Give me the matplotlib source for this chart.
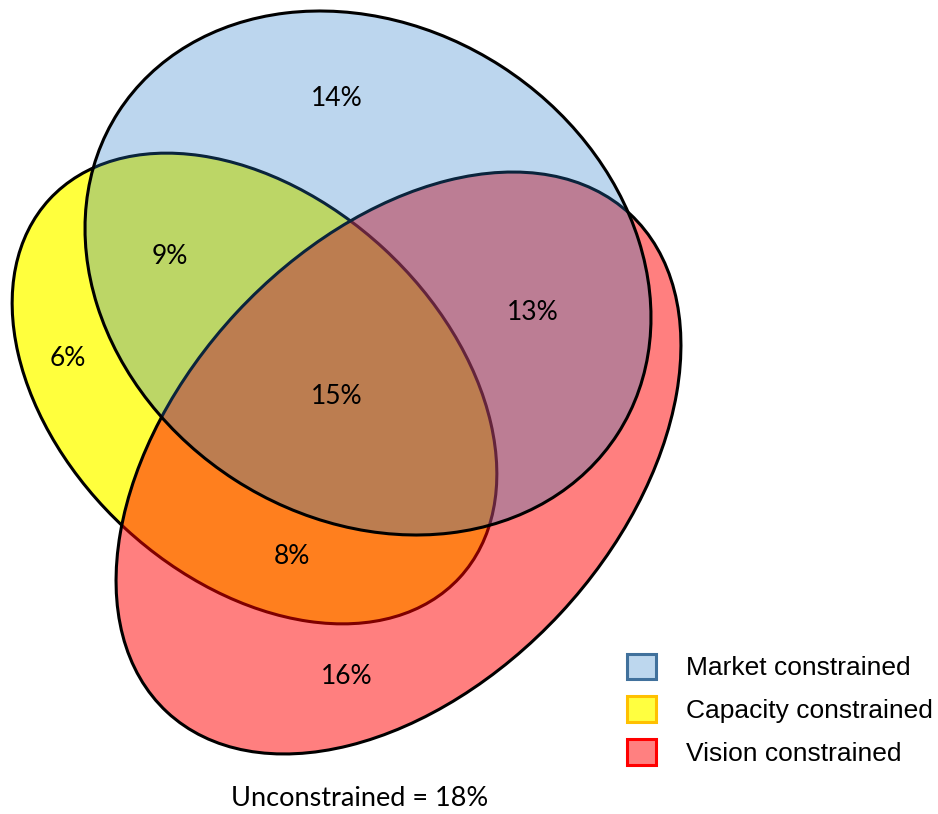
"""Three-way Venn of constraint types, drawn as overlapping tilted ellipses."""
import matplotlib.pyplot as plt
from matplotlib.patches import Ellipse, Patch

# constraint sets, bottom to top in drawing order
SETS = ["Capacity constrained", "Vision constrained", "Market constrained"]
LEGEND_ORDER = ["Market constrained", "Capacity constrained", "Vision constrained"]

# share of respondents in each region (percent)
REGIONS = ["Market only", "Market & Capacity", "Capacity only", "Market & Vision",
           "All three", "Capacity & Vision", "Vision only"]
SHARES = [14, 9, 6, 13, 15, 8, 16]
UNCONSTRAINED = 18

# ellipse geometry in pixel space (y grows downward): centre, width, height, angle
SHAPES = {
    "Capacity constrained": ((254.5, 388.5), 558, 381, 42.7),
    "Vision constrained": ((398.5, 463), 680, 442, -47.1),
    "Market constrained": ((368, 273), 594, 492, 32.8),
}
FILLS = {
    "Capacity constrained": (1.0, 1.0, 0.24, 1.0),
    "Vision constrained": (1.0, 0.0, 0.0, 0.5),
    "Market constrained": (0.14, 0.48, 0.78, 0.30),
}
LEGEND_FACE = {
    "Market constrained": "#bdd7ee",
    "Capacity constrained": "#ffff40",
    "Vision constrained": "#ff8080",
}
LEGEND_EDGE = {
    "Market constrained": "#41719c",
    "Capacity constrained": "#ffc000",
    "Vision constrained": "#ff0000",
}
LABEL_POS = {
    "Market only": (337, 99),
    "Market & Capacity": (170, 257),
    "Capacity only": (68, 358),
    "Market & Vision": (533, 313),
    "All three": (337, 397),
    "Capacity & Vision": (292, 556),
    "Vision only": (347, 677),
}


def main():
    fig = plt.figure(figsize=(9.38, 8.14), dpi=100, facecolor="white")
    ax = fig.add_axes([0, 0, 1, 1])
    ax.set_xlim(0, 938)
    ax.set_ylim(814, 0)
    ax.set_aspect("equal")
    ax.axis("off")

    for i, name in enumerate(SETS):
        centre, w, h, ang = SHAPES[name]
        ax.add_patch(Ellipse(centre, w, h, angle=ang, facecolor=FILLS[name],
                             edgecolor="black", linewidth=2.2, zorder=1 + i))

    for region, share in zip(REGIONS, SHARES):
        x, y = LABEL_POS[region]
        ax.text(x, y, f"{share}%", ha="center", va="center", fontsize=19,
                family="Lato", color="black", zorder=10)

    ax.text(360, 799, f"Unconstrained = {UNCONSTRAINED}%", ha="center", va="center",
            fontsize=19.5, family="Lato", color="black")

    handles = [Patch(facecolor=LEGEND_FACE[n], edgecolor=LEGEND_EDGE[n], linewidth=2.2)
               for n in LEGEND_ORDER]
    ax.legend(handles, LEGEND_ORDER, loc="upper left", bbox_to_anchor=(0.668, 0.197),
              frameon=False, prop={"family": "Liberation Sans", "size": 19},
              handlelength=1.12, handleheight=1.12, handletextpad=1.13,
              labelspacing=0.6, borderpad=0, borderaxespad=0)

    fig.savefig("out.png", dpi=100, facecolor="white")
    plt.close(fig)


if __name__ == "__main__":
    main()
